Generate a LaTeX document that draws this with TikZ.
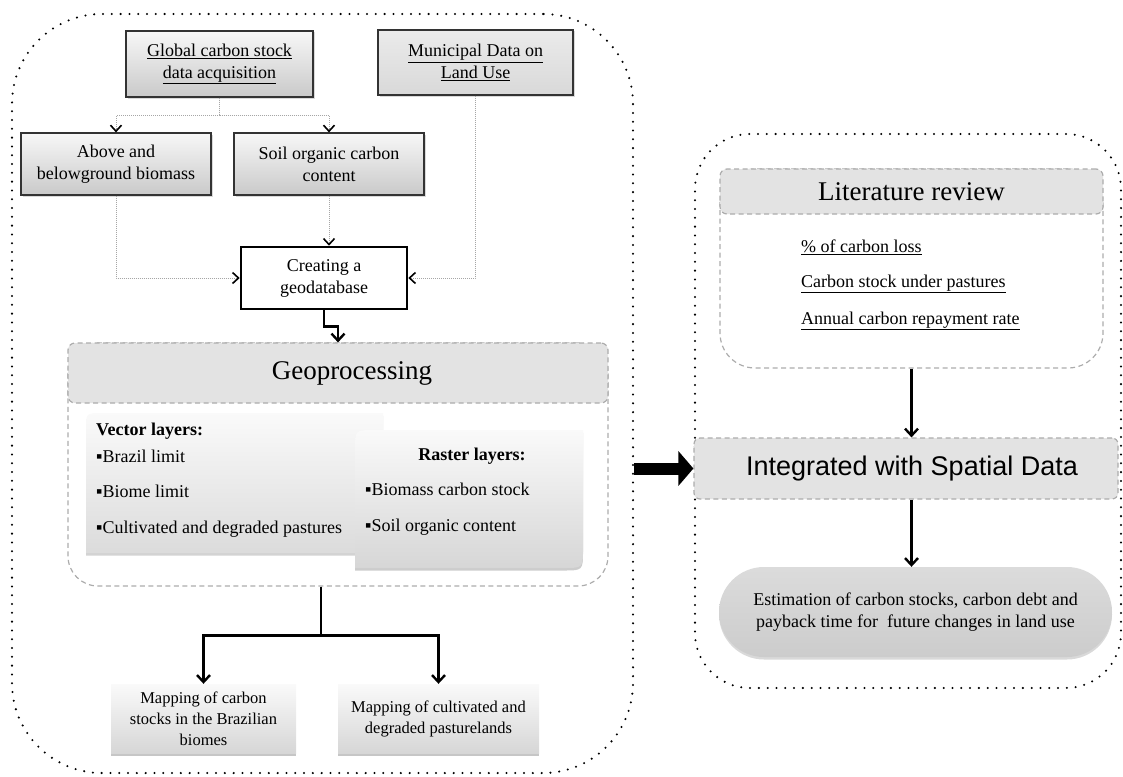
\documentclass[tikz,border=0pt]{standalone}
\usepackage{fontspec}
\setmainfont{Liberation Serif}
\newfontfamily\arialfont{Liberation Sans}
\usetikzlibrary{arrows.meta, positioning, shadows, calc}

\begin{document}
\begin{tikzpicture}[x=1pt,y=-1pt]
    \tikzstyle{every node} = [font=\fontsize{18}{22}\selectfont, inner sep=0pt]
    \tikzstyle{dotframe} = [draw, rectangle, line width=2.3pt, dash pattern=on 0pt off 8.8pt, line cap=round]
    \tikzstyle{databox} = [draw=black!80, rectangle, line width=1.2pt, top color=gray!6, bottom color=gray!42, align=center, drop shadow={opacity=0.3,shadow xshift=1.5pt,shadow yshift=-1.5pt}]
    \tikzstyle{mapbox} = [rectangle, top color=gray!4, bottom color=gray!32, align=center, font=\fontsize{16.5}{21}\selectfont, drop shadow={opacity=0.45,shadow xshift=0pt,shadow yshift=-2.5pt}]
    \tikzstyle{dashbox} = [draw=gray!65, rectangle, line width=1.2pt, dash pattern=on 5pt off 3.5pt]
    \tikzstyle{dotline} = [draw=gray!70, line width=1pt, dash pattern=on 1pt off 1pt, -{Straight Barb[length=6pt,width=11pt,line width=1.6pt,color=black]}]
    \tikzstyle{flow} = [line width=2.4pt, -{Straight Barb[length=7pt,width=13pt]}]
    \tikzstyle{bigflow} = [line width=12pt, -{Triangle[length=15pt,width=34pt]}]
    \useasboundingbox (0,0) rectangle (1123,776);
    % outer frames
    \node[dotframe, rounded corners=90pt, minimum width=621pt, minimum height=759pt] (leftFrame) at (322.5,393.5) {};
    \node[dotframe, rounded corners=55pt, minimum width=426pt, minimum height=554pt] (rightFrame) at (908,411) {};
    % data inputs
    \node[databox, minimum width=187pt, minimum height=66pt] (globalData) at (219.5,64) {\underline{Global carbon stock}\\\underline{data acquisition}};
    \node[databox, top color=gray!16, bottom color=gray!30, minimum width=195pt, minimum height=65pt] (municipalData) at (475.5,62.5) {\underline{Municipal Data on}\\\underline{Land Use}};
    \node[databox, minimum width=190pt, minimum height=62pt] (aboveBiomass) at (116,164) {Above and\\belowground biomass};
    \node[databox, minimum width=190pt, minimum height=62pt] (soilCarbon) at (329,164) {Soil organic carbon\\content};
    \node[draw, rectangle, line width=2.6pt, fill=white, align=center, minimum width=166pt, minimum height=62pt] (geodatabase) at (324,278) {Creating a\\geodatabase};
    % geoprocessing block
    \node[dashbox, rounded corners=30pt, minimum width=540pt, minimum height=243pt] (geoFrame) at (338,464.5) {};
    \node[dashbox, fill=gray!22, rounded corners=7pt, minimum width=540pt, minimum height=60pt, font=\fontsize{27}{30}\selectfont] (geoHead) at (338,373) {\hspace*{28pt}Geoprocessing};
    \shade[top color=gray!4, bottom color=gray!28, drop shadow={opacity=0.35,shadow xshift=0pt,shadow yshift=-2.5pt}]
    (86,553) -- (86,429) .. controls (86,413) .. (102,413) -- (383,413) -- (383,553) -- cycle;
    \node[anchor=north west, align=left] (vecLayers) at (96,423) {\textbf{Vector layers:}\\[5pt]▪Brazil limit\\[13pt]▪Biome limit\\[14pt]▪Cultivated and degraded pastures};
    \shade[top color=gray!4, bottom color=gray!32, drop shadow={opacity=0.4,shadow xshift=0pt,shadow yshift=-2.5pt}]
    (355,568) -- (355,450) .. controls (355,430) .. (375,430) -- (583,430) -- (583,548) .. controls (583,568) .. (563,568) -- cycle;
    \node[font=\bfseries\fontsize{18}{22}\selectfont] (rasTitle) at (472,456) {Raster layers:};
    \node[anchor=north west, align=left] (rasLayers) at (365,483) {▪Biomass carbon stock\\[14pt]▪Soil organic content};
    % outputs
    \node[mapbox, minimum width=185pt, minimum height=69pt] (mapCarbon) at (203.5,718.5) {Mapping of carbon\\stocks in the Brazilian\\biomes};
    \node[mapbox, minimum width=201pt, minimum height=69pt] (mapPasture) at (438.5,718.5) {Mapping of cultivated and\\degraded pasturelands};
    % literature block
    \node[dashbox, rounded corners=35pt, minimum width=383pt, minimum height=199pt] (litFrame) at (911.5,268.5) {};
    \node[dashbox, fill=gray!22, rounded corners=7pt, minimum width=383pt, minimum height=45pt, font=\fontsize{27}{30}\selectfont] (litHead) at (911.5,191.5) {Literature review};
    \node[anchor=west] (carbonLoss) at (801,247) {\underline{\% of carbon loss}};
    \node[anchor=west] (pastureStock) at (801,284) {\underline{Carbon stock under pastures}};
    \node[anchor=west] (repayRate) at (801,321) {\underline{Annual carbon repayment rate}};
    \node[dashbox, fill=gray!22, rounded corners=6pt, minimum width=424pt, minimum height=61pt, font=\arialfont\fontsize{27}{30}\selectfont] (integData) at (906,468.5) {\hspace*{12pt}Integrated with Spatial Data};
    \node[rectangle, top color=gray!28, middle color=gray!5, bottom color=gray!40, rounded corners=45pt, align=center, minimum width=393pt, minimum height=90pt, drop shadow={opacity=0.3,shadow xshift=0pt,shadow yshift=-2.5pt}] (estimation) at (915.5,612) {Estimation of carbon stocks, carbon debt and\\payback time for~ future changes in land use};
    % Connections
    \draw[dotline] (globalData.south) -- ++(0,18) -| (aboveBiomass.north);
    \draw[dotline] (globalData.south) -- ++(0,18) -| (soilCarbon.north);
    \draw[dotline] (aboveBiomass.south) |- (geodatabase.west);
    \draw[dotline] (soilCarbon.south) -- (soilCarbon.south |- geodatabase.north);
    \draw[dotline] (municipalData.south) |- (geodatabase.east);
    \draw[flow] (geodatabase.south) -- ++(0,16) -| (geoHead.north);
    \draw[flow] ([xshift=-17pt]geoFrame.south) -- ++(0,49) -| (mapCarbon.north);
    \draw[flow] ([xshift=-17pt]geoFrame.south) -- ++(0,49) -| (mapPasture.north);
    \draw[flow] (litFrame.south) -- (litFrame.south |- integData.north);
    \draw[flow] (litFrame.south |- integData.south) -- (litFrame.south |- estimation.north);
    \draw[bigflow] (leftFrame.east |- integData.west) -- (integData.west);
\end{tikzpicture}
\end{document}
